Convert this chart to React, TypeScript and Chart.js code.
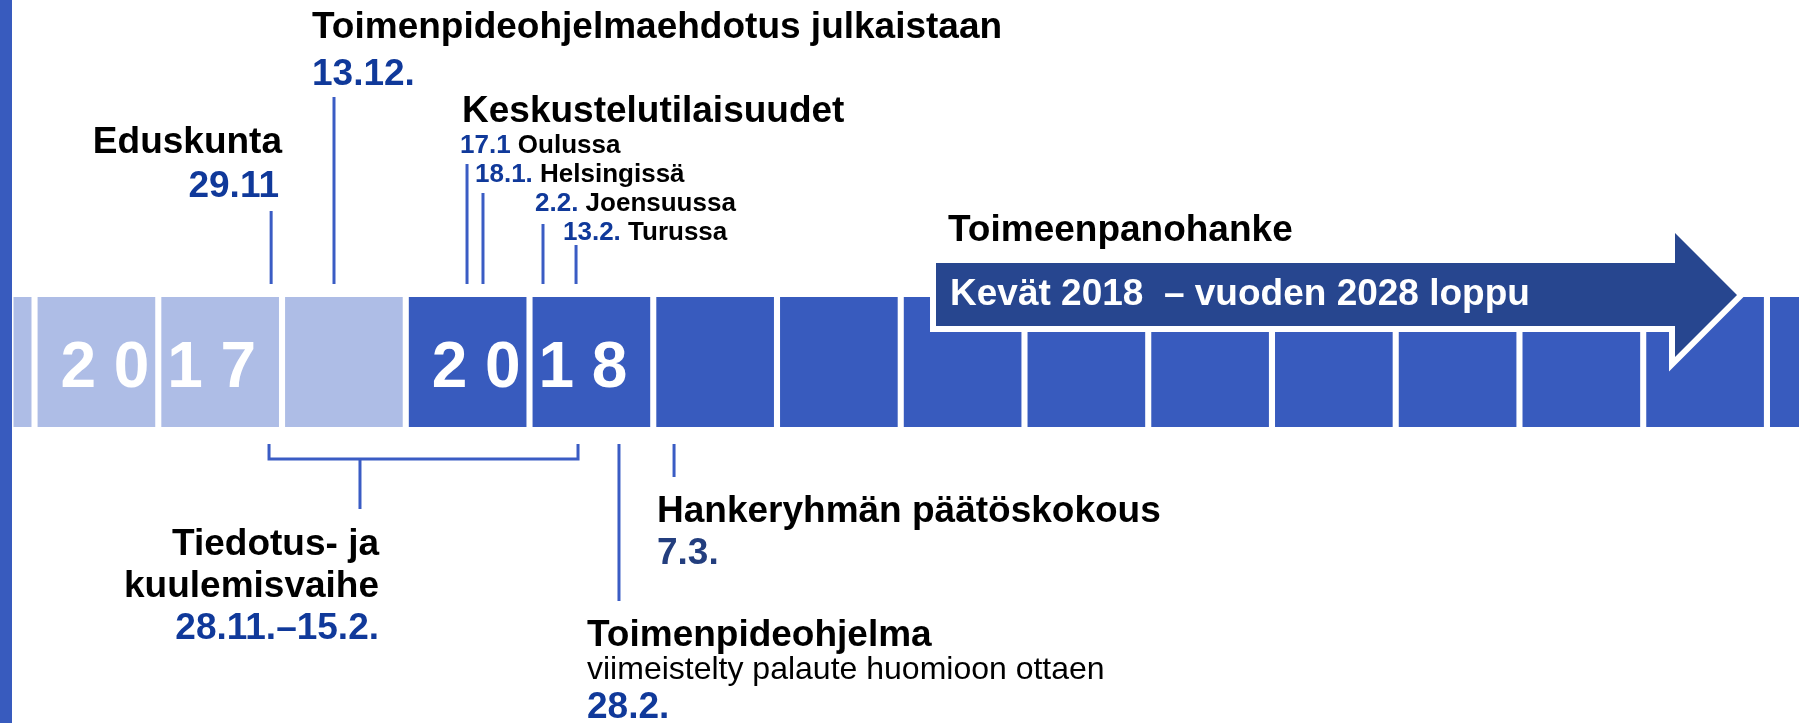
import React, { useEffect, useRef } from "react";
import { Chart, registerables } from "chart.js";

Chart.register(...registerables);

// ---- data ----
const monthCells = [
  "09/2017", "10/2017", "11/2017", "12/2017",
  "01/2018", "02/2018", "03/2018", "04/2018", "05/2018", "06/2018",
  "07/2018", "08/2018", "09/2018", "10/2018", "11/2018", "12/2018",
];
const cellValues = [1, 1, 1, 1, 1, 1, 1, 1, 1, 1, 1, 1, 1, 1, 1, 1];
const cellPhase = [
  "valmistelu", "valmistelu", "valmistelu", "valmistelu",
  "toteutus", "toteutus", "toteutus", "toteutus", "toteutus", "toteutus",
  "toteutus", "toteutus", "toteutus", "toteutus", "toteutus", "toteutus",
];
const yearLabels = ["2 0 1 7", "2 0 1 8"];
const yearLabelPos = [2.0, 5.0];

// events above the timeline (position in month units)
const upperDates = ["29.11", "13.12.", "17.1", "18.1.", "2.2.", "13.2."];
const upperPos = [2.912, 3.42, 4.495, 4.624, 5.109, 5.376];
// events below the timeline
const lowerDates = ["28.2.", "7.3."];
const lowerPos = [5.723, 6.168];
// information and hearing phase 28.11.–15.2.
const phaseRange = [2.895, 5.392];
const phaseMarker = 3.63;
// implementation project arrow: start, head base, tip
const arrowRange = [8.285, 14.257, 14.758];

// ---- styles ----
const LIGHT = "#AEBDE6";
const DARK = "#385BBE";
const STEM = "#3A5CC4";
const ARROW = "#27468F";
const DATE = "#10399A";
const DATE2 = "#233E7E";
const FF = '"Liberation Sans", Arial, sans-serif';
const H = `bold 37px ${FF}`;
const S = `bold 26px ${FF}`;

function runs(ctx: CanvasRenderingContext2D, x: number, y: number, parts: [string, string][], font: string, align: "left" | "right" = "left") {
  ctx.font = font;
  let total = 0;
  for (const [t] of parts) total += ctx.measureText(t).width;
  let cx = align === "right" ? x - total : x;
  ctx.textAlign = "left";
  ctx.textBaseline = "alphabetic";
  for (const [t, c] of parts) {
    ctx.fillStyle = c;
    ctx.fillText(t, cx, y);
    cx += ctx.measureText(t).width;
  }
}

const timelinePlugin = {
  id: "timelineDecor",
  beforeDraw(chart: any) {
    const ctx = chart.ctx;
    ctx.save();
    ctx.fillStyle = "#ffffff";
    ctx.fillRect(0, 0, chart.width, chart.height);
    ctx.fillStyle = DARK;
    ctx.fillRect(0, 0, 12, chart.height);
    ctx.restore();
  },
  afterDatasetsDraw(chart: any) {
    const ctx: CanvasRenderingContext2D = chart.ctx;
    const xs = chart.scales.x;
    const top = chart.chartArea.top;
    const bottom = chart.chartArea.bottom;
    const px = (v: number) => xs.getPixelForValue(v);
    ctx.save();

    // year labels
    ctx.font = `bold 64px ${FF}`;
    ctx.fillStyle = "#ffffff";
    ctx.textAlign = "center";
    ctx.textBaseline = "alphabetic";
    yearLabels.forEach((t, i) => ctx.fillText(t, px(yearLabelPos[i]), top + 90));

    // arrow
    const a0 = px(arrowRange[0]);
    const a1 = px(arrowRange[1]);
    const a2 = px(arrowRange[2]);
    const sT = top - 34, sB = top + 29, hT = top - 64, hB = top + 60, tipY = top - 2;
    ctx.beginPath();
    ctx.moveTo(a0, sT);
    ctx.lineTo(a1, sT);
    ctx.lineTo(a1, hT);
    ctx.lineTo(a2, tipY);
    ctx.lineTo(a1, hB);
    ctx.lineTo(a1, sB);
    ctx.lineTo(a0, sB);
    ctx.closePath();
    ctx.lineJoin = "miter";
    ctx.strokeStyle = "#ffffff";
    ctx.lineWidth = 12;
    ctx.stroke();
    ctx.fillStyle = ARROW;
    ctx.fill();
    runs(ctx, a0 + 14, top + 8, [["Kevät 2018  – vuoden 2028 loppu", "#ffffff"]], H);

    // stems above
    const stemTops = [211, 97, 164, 193, 224, 245];
    ctx.strokeStyle = STEM;
    ctx.lineWidth = 3;
    ctx.lineCap = "butt";
    upperPos.forEach((p, i) => {
      ctx.beginPath();
      ctx.moveTo(px(p), stemTops[i]);
      ctx.lineTo(px(p), top - 13);
      ctx.stroke();
    });
    // stems below
    const stemBottoms = [601, 477];
    lowerPos.forEach((p, i) => {
      ctx.beginPath();
      ctx.moveTo(px(p), bottom + 17);
      ctx.lineTo(px(p), stemBottoms[i]);
      ctx.stroke();
    });
    // bracket
    const b0 = px(phaseRange[0]);
    const b1 = px(phaseRange[1]);
    const bY = bottom + 32;
    ctx.beginPath();
    ctx.moveTo(b0, bottom + 17);
    ctx.lineTo(b0, bY);
    ctx.lineTo(b1, bY);
    ctx.lineTo(b1, bottom + 17);
    ctx.stroke();
    ctx.beginPath();
    ctx.moveTo(px(phaseMarker), bY);
    ctx.lineTo(px(phaseMarker), bottom + 82);
    ctx.stroke();

    // texts above
    runs(ctx, 312, 38, [["Toimenpideohjelmaehdotus julkaistaan", "#000"]], H);
    runs(ctx, 312, 85, [[upperDates[1], DATE]], H);
    runs(ctx, 282, 153, [["Eduskunta", "#000"]], H, "right");
    runs(ctx, 279, 197, [[upperDates[0], DATE]], H, "right");
    runs(ctx, 462, 122, [["Keskustelutilaisuudet", "#000"]], H);
    runs(ctx, 460, 153, [[upperDates[2], DATE], [" Oulussa", "#000"]], S);
    runs(ctx, 475, 182, [[upperDates[3], DATE], [" Helsingissä", "#000"]], S);
    runs(ctx, 535, 211, [[upperDates[4], DATE], [" Joensuussa", "#000"]], S);
    runs(ctx, 563, 240, [[upperDates[5], DATE], [" Turussa", "#000"]], S);
    runs(ctx, 948, 241, [["Toimeenpanohanke", "#000"]], H);

    // texts below
    runs(ctx, 379, 555, [["Tiedotus- ja", "#000"]], H, "right");
    runs(ctx, 379, 597, [["kuulemisvaihe", "#000"]], H, "right");
    runs(ctx, 379, 639, [["28.11.–15.2.", DATE]], H, "right");
    runs(ctx, 657, 522, [["Hankeryhmän päätöskokous", "#000"]], H);
    runs(ctx, 657, 564, [[lowerDates[1], DATE2]], H);
    runs(ctx, 587, 646, [["Toimenpideohjelma", "#000"]], H);
    runs(ctx, 587, 679, [["viimeistelty palaute huomioon ottaen", "#000"]], `32px ${FF}`);
    runs(ctx, 587, 718, [[lowerDates[0], DATE]], H);

    ctx.restore();
  },
};

export default function App() {
  const ref = useRef<HTMLCanvasElement | null>(null);
  useEffect(() => {
    document.body.style.margin = "0";
    const canvas = ref.current;
    if (!canvas) return;
    const chart = new Chart(canvas, {
      type: "bar",
      data: {
        datasets: [
          {
            data: monthCells.map((m, i) => ({ x: i + 0.5, y: cellValues[i] })) as any,
            backgroundColor: cellPhase.map((p) => (p === "valmistelu" ? LIGHT : DARK)),
            borderWidth: 0,
            barThickness: 117,
          },
        ],
      },
      options: {
        responsive: false,
        maintainAspectRatio: false,
        animation: false,
        layout: { padding: { left: 13.5, right: 0, top: 297, bottom: 296 } },
        scales: {
          x: { type: "linear", min: 0.83, max: 15.259, offset: false, display: false, grid: { offset: false } },
          y: { min: 0, max: 1, display: false },
        },
        plugins: { legend: { display: false }, tooltip: { enabled: false } },
      },
      plugins: [timelinePlugin],
    });
    return () => chart.destroy();
  }, []);
  return (
    <div style={{ position: "absolute", left: 0, top: 0, width: 1799, height: 723 }}>
      <canvas ref={ref} width={1799} height={723} style={{ display: "block" }} />
    </div>
  );
}
